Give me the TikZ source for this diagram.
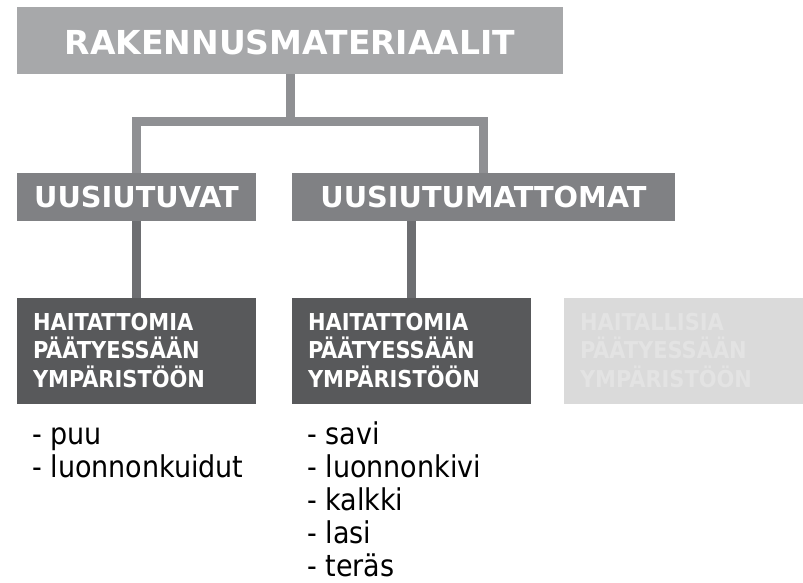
\documentclass[tikz,border=0pt]{standalone}
\usepackage{fontspec}
\setmainfont{DejaVu Sans}
\newfontfamily\condfont{DejaVu Sans Condensed}[BoldFont={DejaVu Sans Condensed Bold}]
\definecolor{topgray}{HTML}{A7A8AA}
\definecolor{midgray}{HTML}{808184}
\definecolor{darkgray}{HTML}{58595B}
\definecolor{lightbox}{HTML}{DADADA}
\definecolor{lighttext}{HTML}{E3E3E3}
\definecolor{conA}{HTML}{8F9093}
\definecolor{conB}{HTML}{6D6E71}
\begin{document}
\begin{tikzpicture}[x=1pt,y=-1pt,
  box/.style={draw=none,inner sep=0pt,text=white},
  titlebox/.style={box,fill=topgray,minimum width=546pt,minimum height=67pt,
     text height=27pt,text depth=0pt,font=\bfseries\fontsize{33}{36}\selectfont},
  midbox/.style={box,fill=midgray,minimum height=48pt,
     text height=20pt,text depth=0pt,font=\bfseries\fontsize{28.8}{32}\selectfont},
  leafbox/.style={box,minimum width=239pt,minimum height=106pt,text width=207pt,align=left,
     text height=17pt,text depth=59pt,font=\condfont\bfseries\fontsize{23.3}{28.5}\selectfont},
  conn/.style={line width=9pt},
  listtxt/.style={anchor=base west,inner sep=0pt,align=left,font=\condfont\fontsize{30}{33}\selectfont}]
\useasboundingbox (0,0) rectangle (803,582);
\node[titlebox] (top) at (290,40.5) {RAKENNUSMATERIAALIT};
\node[midbox,minimum width=239pt] (uv) at (136.5,197) {UUSIUTUVAT};
\node[midbox,minimum width=383pt] (uum) at (483.5,197) {UUSIUTUMATTOMAT};
\node[leafbox,fill=darkgray] (h1) at (136.5,351) {HAITATTOMIA\\PÄÄTYESSÄÄN\\YMPÄRISTÖÖN};
\node[leafbox,fill=darkgray] (h2) at (411.5,351) {HAITATTOMIA\\PÄÄTYESSÄÄN\\YMPÄRISTÖÖN};
\node[leafbox,fill=lightbox,text=lighttext] (h3) at (683.5,351) {HAITALLISIA\\PÄÄTYESSÄÄN\\YMPÄRISTÖÖN};
\coordinate (j) at (290,121.5);
\draw[conn,conA] (top.south) -- (j);
\draw[conn,conA] (j) -| (uv.north);
\draw[conn,conA] (j) -| (uum.north);
\draw[conn,conB] (uv.south) -- (h1.north);
\draw[conn,conB] (h2.north |- uum.south) -- (h2.north);
\node[listtxt] (l1) at (32,477) {- puu\\- luonnonkuidut};
\node[listtxt] (l2) at (307,576) {- savi\\- luonnonkivi\\- kalkki\\- lasi\\- teräs};
\end{tikzpicture}
\end{document}
